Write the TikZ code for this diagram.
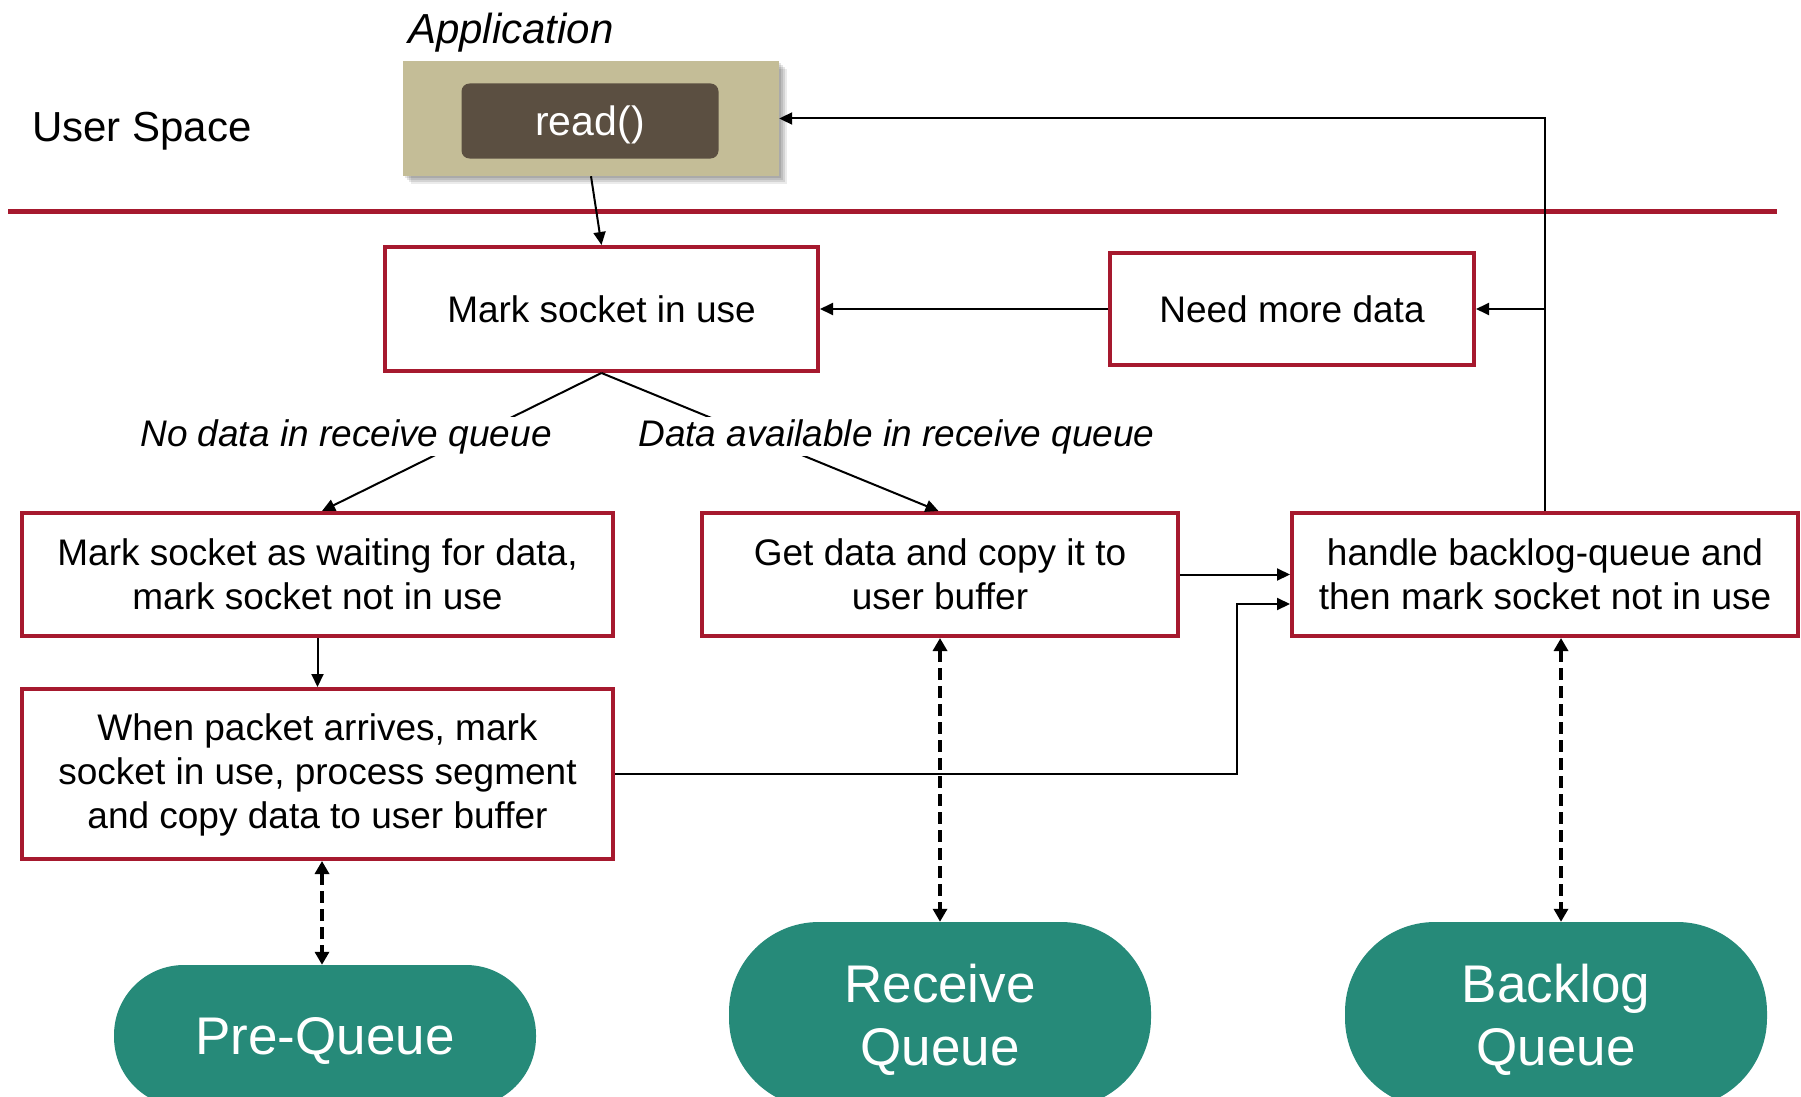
\documentclass[tikz,border=0pt]{standalone}
\usepackage{fontspec}
\setmainfont{Liberation Sans}
\usetikzlibrary{arrows.meta,calc}
\definecolor{boxred}{RGB}{166,25,46}
\definecolor{apptan}{RGB}{196,189,151}
\definecolor{callbrown}{RGB}{91,79,65}
\definecolor{queueteal}{RGB}{38,138,121}
\tikzset{
  stepbox/.style={draw=boxred, line width=4pt, fill=white, inner sep=0pt,
    align=center, font=\fontsize{37}{44}\selectfont},
  queuebox/.style={fill=queueteal, text=white, inner sep=0pt, align=center,
    text depth=-2pt, minimum width=422pt, font=\fontsize{53}{63}\selectfont},
  lbl/.style={fill=white, inner sep=2pt, font=\fontsize{37}{44}\selectfont\itshape},
  arr/.style={line width=2pt, -{Triangle[length=13pt,width=12pt]}},
  darr/.style={line width=3.5pt, dash pattern=on 12pt off 6pt,
    {Triangle[length=13pt,width=14pt]}-{Triangle[length=13pt,width=14pt]}},
}
\begin{document}
\begin{tikzpicture}[x=1pt,y=-1pt]
\useasboundingbox (0,0) rectangle (1801,1097);
\clip (0,0) rectangle (1801,1097);

% user space side
\node[anchor=base west, inner sep=0pt, font=\fontsize{42}{50}\selectfont] (us) at (32,142) {User Space};
\node[anchor=base, inner sep=0pt, font=\fontsize{42}{50}\selectfont\itshape] (apptitle) at (511,44) {Application};

% soft shadow under the application box
\foreach \d/\o in {2/0.10,4/0.10,6/0.10,8/0.08}
  \fill[black, opacity=\o] (403+\d,61+\d) rectangle (779+\d,176+\d);
\node[fill=apptan, minimum width=376pt, minimum height=115pt, inner sep=0pt] (app) at (591,118.5) {};
\node[fill=callbrown, rounded corners=8pt, minimum width=257pt, minimum height=75pt,
  inner sep=0pt, text depth=0pt, text=white, font=\fontsize{41}{48}\selectfont] (rd) at (590,121) {read()};

% kernel boundary
\draw[boxred, line width=5pt] (8,211) -- (1777,211);

% steps
\node[stepbox, minimum width=433pt, minimum height=124pt] (mark) at (601.5,309) {Mark socket in use};
\node[stepbox, minimum width=364pt, minimum height=112pt] (need) at (1292,309) {Need more data};
\node[stepbox, minimum width=591pt, minimum height=123pt] (wait) at (317.5,574.5)
  {Mark socket as waiting for data,\\mark socket not in use};
\node[stepbox, minimum width=476pt, minimum height=123pt] (get) at (940,574.5)
  {Get data and copy it to\\user buffer};
\node[stepbox, minimum width=506pt, minimum height=123pt] (back) at (1545,574.5)
  {handle backlog-queue and\\then mark socket not in use};
\node[stepbox, minimum width=591pt, minimum height=170pt, text depth=6pt] (pkt) at (317.5,774)
  {When packet arrives, mark\\socket in use, process segment\\and copy data to user buffer};

% queues
\node[queuebox, minimum height=142pt, rounded corners=70pt] (pre) at (325,1036) {Pre-Queue};
\node[queuebox, minimum height=186pt, rounded corners=90pt] (rq) at (940,1015) {Receive\\Queue};
\node[queuebox, minimum height=186pt, rounded corners=90pt] (bq) at (1556,1015) {Backlog\\Queue};

% control flow
\draw[arr] (app.south) -- (mark.north);
\draw[arr] (need.west) -- (mark.east);
\draw[arr] (back.north) |- (app.east);
\draw[arr] (back.north |- need.east) -- (need.east);
\draw[arr] (mark.south) -- ([xshift=4.5pt]wait.north);
\draw[arr] (mark.south) -- ([xshift=-1.5pt]get.north);
\node[lbl] (nodata) at (346,436.5) {No data in receive queue};
\node[lbl] (avail) at (896.5,436.5) {Data available in receive queue};
\draw[arr] (get.east) -- (back.west);
\coordinate (turn) at (1237,604);
\draw[arr] (pkt.east) -| (turn) -- (turn -| back.west);
\draw[arr] (wait.south) -- (pkt.north);

% queue access
\draw[darr] ([xshift=4.5pt]pkt.south) -- ([xshift=-3pt]pre.north);
\draw[darr] (get.south) -- (rq.north);
\draw[darr] ([xshift=16pt]back.south) -- ([xshift=5pt]bq.north);
\end{tikzpicture}
\end{document}
